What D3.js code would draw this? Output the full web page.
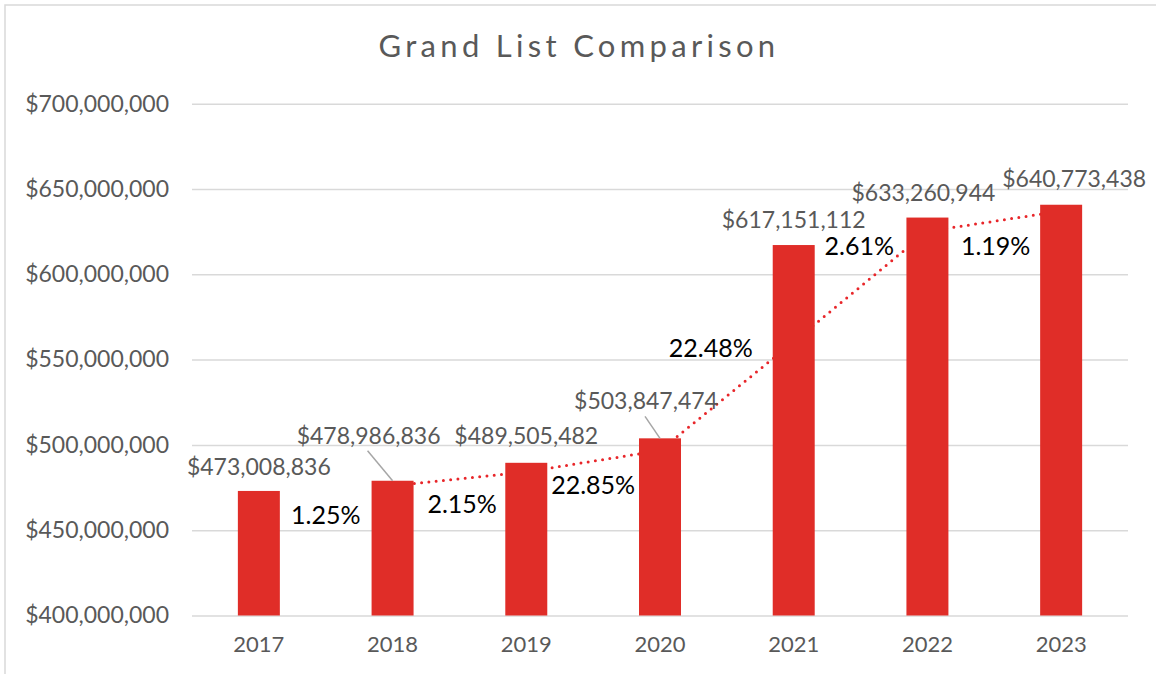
<!DOCTYPE html>
<html>
<head>
<meta charset="utf-8">
<script src="https://cdn.jsdelivr.net/npm/d3@7"></script>
<style>
  html, body { margin: 0; padding: 0; background: #fff; }
  svg { display: block; font-family: Lato, "DejaVu Sans", sans-serif; }
</style>
</head>
<body>
<svg id="chart" width="1156" height="674"></svg>
<script>
// values
const years = ["2017", "2018", "2019", "2020", "2021", "2022", "2023"];
const grandList = [473008836, 478986836, 489505482, 503847474, 617151112, 633260944, 640773438];
// 2-period moving average trendline (starts at 2018)
const trendYears = ["2018", "2019", "2020", "2021", "2022", "2023"];
const trendValues = [475997836, 484246159, 496676478, 560499293, 625206028, 637017191];
const pctLabels = ["1.25%", "2.15%", "22.85%", "22.48%", "2.61%", "1.19%"];
// where the % text boxes sit, in chart units (category index, dollars)
const pctAnchorX = [0.5, 1.52, 2.5, 3.38, 4.49, 5.51];
const pctAnchorY = [453.6e6, 460.1e6, 471.2e6, 551.5e6, 611.4e6, 611.4e6];
const yTicks = [400e6, 450e6, 500e6, 550e6, 600e6, 650e6, 700e6];

// manual nudges of some value labels (px), as dragged in the original
const labelNudge = [[0, 1], [-24, -20], [0, -2], [-14, -12], [0, 0], [-4, 0], [13, -1]];

const barColor = "#E02D28";
const textGray = "#595959";

const svg = d3.select("#chart");
const plot = {left: 192, right: 1128, top: 103.7, bottom: 615.5};

svg.append("rect")
    .attr("x", 5).attr("y", 5)
    .attr("width", 1300).attr("height", 800)
    .attr("fill", "none")
    .attr("stroke", "#D9D9D9")
    .attr("stroke-width", 1.5);

svg.append("text")
    .attr("x", 579).attr("y", 57)
    .attr("text-anchor", "middle")
    .attr("fill", textGray)
    .style("font-size", "31px")
    .style("letter-spacing", "4.3px")
    .text("Grand List Comparison");

const x = d3.scaleBand()
    .domain(years)
    .range([plot.left, plot.right])
    .paddingInner(0.686)
    .paddingOuter(0.343);
const xIdx = d3.scaleLinear()
    .domain([-0.5, years.length - 0.5])
    .range([plot.left, plot.right]);
const y = d3.scaleLinear()
    .domain([400e6, 700e6])
    .range([plot.bottom, plot.top]);

const fmt = d3.format("$,");

// gridlines + y labels
const yAxis = d3.axisLeft(y)
    .tickValues(yTicks)
    .tickSize(-(plot.right - plot.left))
    .tickPadding(23)
    .tickFormat(fmt);
const gy = svg.append("g")
    .attr("transform", `translate(${plot.left},0)`)
    .call(yAxis);
gy.select(".domain").remove();
gy.selectAll(".tick line").attr("stroke", "#D9D9D9").attr("stroke-width", 1.5);
gy.selectAll(".tick text")
    .attr("fill", textGray)
    .style("font-size", "23px")
    .style("font-family", "Lato, sans-serif");

// x labels
const xAxis = d3.axisBottom(x).tickSize(0).tickPadding(21);
const gx = svg.append("g")
    .attr("transform", `translate(0,${plot.bottom})`)
    .call(xAxis);
gx.select(".domain").remove();
gx.selectAll(".tick text")
    .attr("fill", textGray)
    .style("font-size", "22px")
    .style("font-family", "Lato, sans-serif");

// trendline sits under the bars, same red so it vanishes inside them
const trendLine = d3.line()
    .x((d, i) => x(trendYears[i]) + x.bandwidth() / 2)
    .y(d => y(d));
svg.append("path")
    .datum(trendValues)
    .attr("d", trendLine)
    .attr("fill", "none")
    .attr("stroke", "#E8262A")
    .attr("stroke-width", 3)
    .attr("stroke-linecap", "round")
    .attr("stroke-dasharray", "0 7.3");

svg.append("g").selectAll("rect")
    .data(grandList)
    .join("rect")
    .attr("x", (d, i) => x(years[i]))
    .attr("y", d => y(d))
    .attr("width", x.bandwidth())
    .attr("height", d => plot.bottom - y(d))
    .attr("fill", barColor);

// value labels, with leader lines where the label was moved away
const labels = grandList.map((v, i) => {
  const cx = x(years[i]) + x.bandwidth() / 2;
  return {
    v, cx, top: y(v),
    lx: cx + labelNudge[i][0],
    ly: y(v) - 17 + labelNudge[i][1],
    moved: Math.abs(labelNudge[i][1]) > 5
  };
});

svg.append("g").selectAll("line")
    .data(labels.filter(d => d.moved))
    .join("line")
    .attr("x1", d => d.lx - 1)
    .attr("y1", d => d.ly + 7)
    .attr("x2", d => d.cx)
    .attr("y2", d => d.top)
    .attr("stroke", "#A6A6A6")
    .attr("stroke-width", 1.5);

svg.append("g").selectAll("text")
    .data(labels)
    .join("text")
    .attr("x", d => d.lx)
    .attr("y", d => d.ly)
    .attr("text-anchor", "middle")
    .attr("fill", textGray)
    .style("font-size", "23px")
    .text(d => fmt(d.v));

svg.append("g").selectAll("text")
    .data(pctLabels)
    .join("text")
    .attr("x", (d, i) => xIdx(pctAnchorX[i]))
    .attr("y", (d, i) => y(pctAnchorY[i]))
    .attr("text-anchor", "middle")
    .attr("fill", "#000")
    .style("font-size", "25px")
    .text(d => d);
</script>
</body>
</html>
